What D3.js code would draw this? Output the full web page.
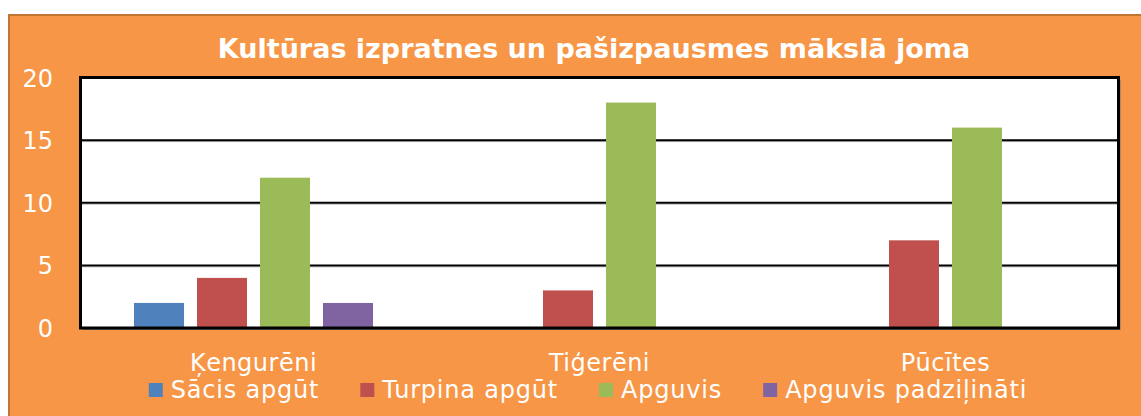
<!DOCTYPE html>
<html>
<head>
<meta charset="utf-8">
<script src="https://cdn.jsdelivr.net/npm/d3@7"></script>
<style>
  body { margin: 0; background: #fff; }
  text { font-family: "DejaVu Sans", sans-serif; fill: #fff; }
</style>
</head>
<body>
<div class="plot"></div>
<script>
// Data
const categories = ["Ķengurēni", "Tiģerēni", "Pūcītes"];
const seriesNames = ["Sācis apgūt", "Turpina apgūt", "Apguvis", "Apguvis padziļināti"];
const sacisApgut = [2, 0, 0];
const turpinaApgut = [4, 3, 7];
const apguvis = [12, 18, 16];
const apguvisPadzilinati = [2, 0, 0];
const yTicks = [0, 5, 10, 15, 20];
const colors = ["#4F81BD", "#C0504D", "#9BBB59", "#8064A2"];
const title = "Kultūras izpratnes un pašizpausmes mākslā joma";

const W = 1141, H = 416;
const plot = {left: 80.5, top: 77.5, right: 1118.5, bottom: 328};

const svg = d3.select(".plot")
    .append("svg")
        .attr("width", W)
        .attr("height", H);

// Orange chart background with darker edge
svg.append("rect")
    .attr("x", 9).attr("y", 15)
    .attr("width", W + 10).attr("height", H)
    .attr("fill", "#F79646")
    .attr("stroke", "#C27633")
    .attr("stroke-width", 2);

// Title
svg.append("text")
    .attr("x", 594).attr("y", 58)
    .attr("text-anchor", "middle")
    .style("font-size", "27px")
    .style("font-weight", "bold")
    .text(title);

// Scales
const x0 = d3.scaleBand()
    .domain(categories)
    .range([plot.left, plot.right]);

const x1 = d3.scaleBand()
    .domain(seriesNames)
    .range([(x0.bandwidth() - 239) / 2, (x0.bandwidth() + 239) / 2])
    .paddingInner(13 / 63);

const y = d3.scaleLinear()
    .domain([0, 20])
    .range([plot.bottom, plot.top]);

// Plot area with a soft shadow
svg.append("rect")
    .attr("x", plot.left + 2).attr("y", plot.top + 2)
    .attr("width", plot.right - plot.left).attr("height", plot.bottom - plot.top)
    .attr("fill", "#777");
svg.append("rect")
    .attr("x", plot.left).attr("y", plot.top)
    .attr("width", plot.right - plot.left).attr("height", plot.bottom - plot.top)
    .attr("fill", "#fff");

// Gridlines
const grid = svg.append("g");
grid.selectAll("line.shadow")
    .data(yTicks.filter(d => d > 0 && d < 20))
    .enter().append("line")
        .attr("class", "shadow")
        .attr("x1", plot.left).attr("x2", plot.right)
        .attr("y1", d => y(d) + 1.5).attr("y2", d => y(d) + 1.5)
        .attr("stroke", "#bbb").attr("stroke-width", 1);
grid.selectAll("line.major")
    .data(yTicks.filter(d => d > 0 && d < 20))
    .enter().append("line")
        .attr("class", "major")
        .attr("x1", plot.left).attr("x2", plot.right)
        .attr("y1", y).attr("y2", y)
        .attr("stroke", "#000").attr("stroke-width", 2);

// Bars
const table = categories.map((c, i) => ({
    category: c,
    values: [sacisApgut[i], turpinaApgut[i], apguvis[i], apguvisPadzilinati[i]]
        .map((v, j) => ({name: seriesNames[j], value: v, color: colors[j]}))
}));

svg.append("g").selectAll("g")
    .data(table)
    .enter().append("g")
        .attr("transform", d => "translate(" + x0(d.category) + ",0)")
    .selectAll("rect")
    .data(d => d.values.filter(v => v.value > 0))
    .enter().append("rect")
        .attr("x", d => x1(d.name))
        .attr("width", x1.bandwidth())
        .attr("y", d => y(d.value))
        .attr("height", d => y(0) - y(d.value))
        .attr("fill", d => d.color);

// Plot border
svg.append("rect")
    .attr("x", plot.left).attr("y", plot.top)
    .attr("width", plot.right - plot.left).attr("height", plot.bottom - plot.top)
    .attr("fill", "none")
    .attr("stroke", "#000")
    .attr("stroke-width", 3);

// Y axis labels
svg.append("g").selectAll("text")
    .data(yTicks)
    .enter().append("text")
        .attr("x", 53)
        .attr("y", d => y(d) + 1)
        .attr("text-anchor", "end")
        .attr("dominant-baseline", "central")
        .style("font-size", "24px")
        .text(d => d);

// Category labels
svg.append("g").selectAll("text")
    .data(categories)
    .enter().append("text")
        .attr("x", d => x0(d) + x0.bandwidth() / 2)
        .attr("y", 371)
        .attr("text-anchor", "middle")
        .style("font-size", "24px")
        .style("letter-spacing", "0.5px")
        .text(d => d);

// Legend
const legend = svg.append("g");
const items = legend.selectAll("g")
    .data(seriesNames)
    .enter().append("g");
items.append("rect")
    .attr("width", 14).attr("height", 14)
    .attr("y", -7)
    .attr("fill", (d, i) => colors[i]);
items.append("text")
    .attr("x", 22)
    .attr("dominant-baseline", "central")
    .style("font-size", "24px")
    .style("letter-spacing", "0.8px")
    .text(d => d);

let offset = 0;
const starts = [];
items.each(function() {
    starts.push(offset);
    offset += 22 + this.querySelector("text").getComputedTextLength() + 41;
});
const total = offset - 41;
items.attr("transform", (d, i) => "translate(" + (588 - total / 2 + starts[i]) + ",390)");
</script>
</body>
</html>
